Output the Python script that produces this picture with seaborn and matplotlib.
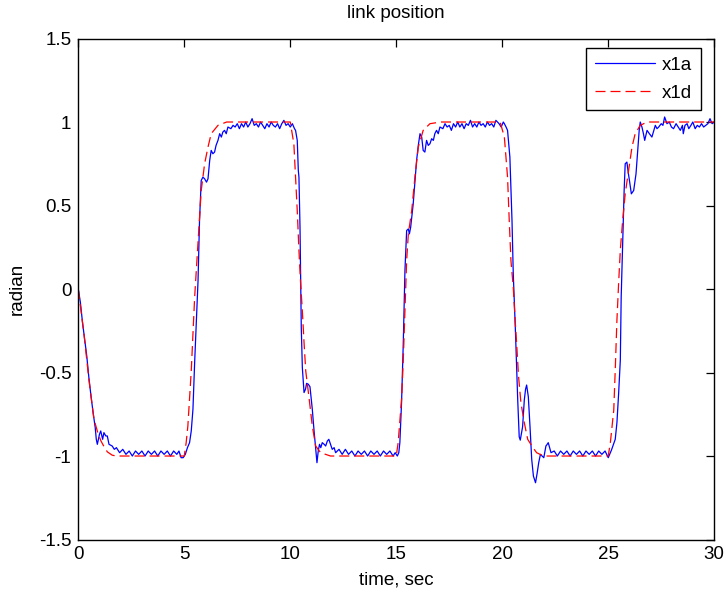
import matplotlib
matplotlib.use("Agg")
import matplotlib.pyplot as plt
import seaborn as sns

# desired link position (red dashed)
t_d = [0, 0.27, 0.5, 0.74, 0.92, 1.07, 1.2, 1.37, 1.6, 1.8,
       5.0, 5.09, 5.17, 5.33, 5.49, 5.65, 5.8, 5.96, 6.12, 6.27, 6.59, 7.0,
       10.0, 10.17, 10.25, 10.33, 10.41, 10.49, 10.57, 10.65, 10.73, 10.88, 11.04, 11.2, 11.43, 11.9,
       15.0, 15.09, 15.25, 15.33, 15.41, 15.49, 15.57, 15.73, 15.88, 16.04, 16.27, 16.59, 17.1,
       19.9, 20.1, 20.25, 20.33, 20.41, 20.52, 20.6, 20.68, 20.77, 20.88, 21.04, 21.2, 21.45, 21.62, 21.95,
       25.0, 25.1, 25.26, 25.33, 25.41, 25.49, 25.57, 25.68, 25.8, 25.96, 26.12, 26.27, 26.51, 26.83, 30.0]
x1d = [0, -0.27, -0.54, -0.78, -0.86, -0.91, -0.94, -0.975, -0.995, -1.0,
       -1.0, -0.92, -0.82, -0.49, -0.05, 0.28, 0.59, 0.75, 0.85, 0.93, 0.98, 1.0,
       1.0, 0.87, 0.67, 0.47, 0.23, 0.03, -0.13, -0.32, -0.49, -0.645, -0.82, -0.94, -0.98, -1.0,
       -1.0, -0.92, -0.66, -0.43, -0.13, 0.17, 0.33, 0.47, 0.67, 0.85, 0.95, 0.99, 1.0,
       1.0, 0.91, 0.67, 0.41, 0.17, 0.01, -0.17, -0.33, -0.525, -0.68, -0.8, -0.9, -0.95, -0.98, -1.0,
       -1.0, -0.92, -0.725, -0.485, -0.185, 0.035, 0.235, 0.41, 0.57, 0.71, 0.85, 0.93, 0.98, 1.0, 1.0]

# actual link position (blue solid)
t_a = [0, 0.1, 0.2, 0.3, 0.4, 0.5, 0.6, 0.7, 0.8, 0.85, 0.9, 1.0, 1.06, 1.15, 1.21, 1.3, 1.37, 1.45, 1.6, 1.7, 1.8,
       1.95, 2.1, 2.25, 2.4, 2.55, 2.7, 2.85, 3.0, 3.15, 3.3, 3.45, 3.6, 3.75, 3.9, 4.05, 4.2, 4.35, 4.5, 4.65, 4.75,
       4.85, 4.95, 5.05,
       5.15, 5.25, 5.33, 5.41, 5.49, 5.57, 5.65, 5.72, 5.8, 5.88, 5.96, 6.05, 6.12, 6.2, 6.27, 6.35, 6.43, 6.5,
       6.59, 6.67, 6.75, 6.82, 6.9, 6.98, 7.06,
       7.2, 7.3, 7.4, 7.5, 7.6, 7.7, 7.8, 7.9, 8.0, 8.1, 8.2, 8.3, 8.4, 8.5, 8.6, 8.7, 8.8, 8.9, 9.0, 9.1, 9.2,
       9.3, 9.4, 9.5, 9.6, 9.7, 9.8, 9.9, 10.0, 10.1, 10.2,
       10.25, 10.33, 10.38, 10.41, 10.46, 10.49, 10.52, 10.57, 10.65, 10.72, 10.77, 10.85, 10.93, 11.04, 11.12,
       11.2, 11.26, 11.32, 11.38, 11.44, 11.51, 11.6, 11.67, 11.75, 11.82, 11.9, 11.98, 12.07, 12.14,
       12.3, 12.45, 12.6, 12.75, 12.9, 13.05, 13.2, 13.35, 13.5, 13.65, 13.8, 13.95, 14.1, 14.25, 14.4, 14.55,
       14.7, 14.85, 14.95, 15.05,
       15.12, 15.17, 15.25, 15.33, 15.41, 15.49, 15.57, 15.62, 15.68, 15.8, 15.96, 16.04, 16.12, 16.2, 16.27,
       16.35, 16.43, 16.51, 16.59, 16.67, 16.75, 16.82, 16.9, 16.98, 17.06,
       17.2, 17.3, 17.4, 17.5, 17.6, 17.7, 17.8, 17.9, 18.0, 18.1, 18.2, 18.3, 18.4, 18.5, 18.6, 18.7, 18.8,
       18.9, 19.0, 19.1, 19.2, 19.3, 19.4, 19.5, 19.6, 19.7, 19.85, 19.95, 20.05, 20.1, 20.18, 20.25,
       20.36, 20.46, 20.52, 20.62, 20.68, 20.73, 20.8, 20.85, 20.9, 20.96, 21.04, 21.1, 21.15, 21.23, 21.31,
       21.39, 21.47, 21.57, 21.65, 21.72, 21.8, 21.88, 21.96, 22.06, 22.12, 22.17, 22.3,
       22.45, 22.6, 22.75, 22.9, 23.05, 23.2, 23.35, 23.5, 23.65, 23.8, 23.95, 24.1, 24.25, 24.4, 24.55, 24.7,
       24.85, 25.0,
       25.15, 25.33, 25.41, 25.49, 25.57, 25.61, 25.68, 25.75, 25.8, 25.88, 25.94, 26.0, 26.09, 26.2, 26.31,
       26.4, 26.46, 26.51, 26.59, 26.66, 26.72, 26.83, 26.94, 27.06, 27.15, 27.22,
       27.3, 27.38, 27.5, 27.58, 27.66, 27.77, 27.88, 27.98, 28.08, 28.2, 28.3, 28.4, 28.5, 28.54, 28.62, 28.72,
       28.8, 28.9, 28.99, 29.1, 29.2, 29.3, 29.4, 29.5, 29.6, 29.7, 29.8, 29.9, 30.0]
x1a = [0, -0.08, -0.2, -0.3, -0.4, -0.53, -0.64, -0.74, -0.83, -0.9, -0.93, -0.87, -0.85, -0.9, -0.86, -0.88,
       -0.88, -0.93, -0.94, -0.96, -0.95,
       -0.98, -0.96, -0.99, -0.97, -1.0, -0.97, -0.99, -0.97, -1.0, -0.97, -0.99, -0.97, -1.0, -0.97, -0.99,
       -0.97, -1.0, -0.97, -0.99, -0.97,
       -1.01, -1.01, -0.99,
       -0.95, -0.92, -0.85, -0.72, -0.44, -0.2, 0.05, 0.41, 0.65, 0.67, 0.66, 0.64, 0.66, 0.77, 0.83, 0.81, 0.82,
       0.86, 0.89, 0.93, 0.91, 0.94, 0.95, 0.93, 0.97,
       0.96, 0.98, 0.97, 0.99, 0.96, 0.99, 0.97, 1.0, 0.97, 0.99, 1.02, 0.98, 0.99, 0.97, 1.0, 0.98, 0.96, 0.99,
       0.97, 1.0, 0.98, 0.97, 0.99, 0.96, 0.99, 1.01, 0.98, 0.99, 0.97, 0.99, 0.96,
       0.95, 0.89, 0.71, 0.67, 0.37, 0.07, -0.23, -0.47, -0.62, -0.6, -0.565, -0.57, -0.585, -0.72, -0.845,
       -0.96, -1.04, -0.97, -0.93, -0.95, -0.92, -0.93, -0.94, -0.91, -0.9, -0.93, -0.96, -0.95, -0.98,
       -0.96, -0.99, -0.96, -0.99, -0.97, -1.0, -0.97, -0.99, -0.97, -1.0, -0.97, -0.99, -0.97, -1.0, -0.97,
       -0.99, -0.97, -1.0, -0.98, -1.0,
       -0.98, -0.92, -0.68, -0.33, 0.11, 0.35, 0.36, 0.33, 0.37, 0.51, 0.77, 0.86, 0.93, 0.91, 0.83, 0.82,
       0.89, 0.86, 0.87, 0.9, 0.89, 0.93, 0.95, 0.93, 0.97,
       0.96, 0.99, 0.97, 0.98, 0.95, 0.99, 0.97, 1.0, 0.97, 0.99, 0.96, 0.99, 0.98, 1.01, 0.97, 0.99, 0.97,
       1.0, 0.98, 0.99, 0.97, 1.0, 0.98, 0.99, 0.97, 1.01, 0.99, 0.97, 1.0, 0.99, 0.97, 0.95,
       0.79, 0.41, 0.09, -0.245, -0.465, -0.665, -0.885, -0.905, -0.87, -0.825, -0.665, -0.6, -0.575, -0.645,
       -0.825, -1.02, -1.12, -1.16, -1.1, -1.04, -0.99, -1.0, -1.01, -0.94, -0.93, -0.92, -0.98,
       -0.97, -1.0, -0.97, -0.99, -0.97, -1.0, -0.97, -0.99, -0.97, -1.0, -0.97, -0.99, -0.97, -1.0, -0.97,
       -0.99, -0.97, -1.01,
       -0.965, -0.9, -0.8, -0.625, -0.425, -0.05, 0.27, 0.59, 0.75, 0.76, 0.7, 0.65, 0.57, 0.59, 0.69, 0.85,
       0.95, 1.0, 0.97, 0.93, 0.89, 0.95, 0.93, 0.91, 0.95, 0.98,
       0.96, 0.97, 0.99, 0.98, 1.03, 0.99, 1.0, 0.97, 0.96, 0.99, 0.97, 0.95, 0.98, 0.93, 0.98, 0.99, 0.96,
       0.98, 1.0, 0.96, 0.98, 0.97, 0.99, 0.97, 0.98, 0.99, 1.02, 0.99, 1.0]

x_ticks = [0, 5, 10, 15, 20, 25, 30]
y_ticks = [-1.5, -1, -0.5, 0, 0.5, 1, 1.5]
y_tick_labels = ['-1.5', '-1', '-0.5', '0', '0.5', '1', '1.5']

sns.set_style('white')
plt.rcParams['font.family'] = ['Liberation Sans', 'DejaVu Sans']
plt.rcParams['font.size'] = 13.5
plt.rcParams['text.color'] = 'black'
plt.rcParams['axes.labelcolor'] = 'black'
plt.rcParams['xtick.color'] = 'black'
plt.rcParams['ytick.color'] = 'black'
plt.rcParams['xtick.direction'] = 'in'
plt.rcParams['ytick.direction'] = 'in'

fig = plt.figure(figsize=(7.26, 5.98), dpi=100)
ax = fig.add_axes([0.1078, 0.0978, 0.876, 0.8378])

sns.lineplot(x=t_a, y=x1a, color='#0000ff', lw=0.9, estimator=None, sort=False,
             label='x1a', ax=ax)
sns.lineplot(x=t_d, y=x1d, color='#ff0000', lw=0.9, estimator=None, sort=False,
             linestyle=(0, (8, 4)), label='x1d', ax=ax)

ax.set_xlim(0, 30)
ax.set_ylim(-1.5, 1.5)
ax.set_xticks(x_ticks)
ax.set_xticklabels([str(v) for v in x_ticks])
ax.set_yticks(y_ticks)
ax.set_yticklabels(y_tick_labels)
ax.tick_params(which='both', direction='in', length=6, width=0.9, color='black',
               labelcolor='black', top=True, right=True, labelsize=13.5, pad=5)
for s in ax.spines.values():
    s.set_visible(True)
    s.set_color('black')
    s.set_linewidth(1.0)

ax.set_title('link position', fontsize=13.5, pad=15, color='black')
ax.set_xlabel('time, sec', fontsize=13.5, labelpad=6)
ax.set_ylabel('radian', fontsize=13.5, labelpad=9)

leg = ax.legend(loc='upper right', bbox_to_anchor=(0.979, 0.981), borderaxespad=0,
                fancybox=False, framealpha=1, edgecolor='black', handlelength=3.2,
                handletextpad=0.4, fontsize=13.5, labelspacing=0.6, borderpad=0.45)
leg.get_frame().set_linewidth(1.0)

fig.savefig('out.png', dpi=100)
